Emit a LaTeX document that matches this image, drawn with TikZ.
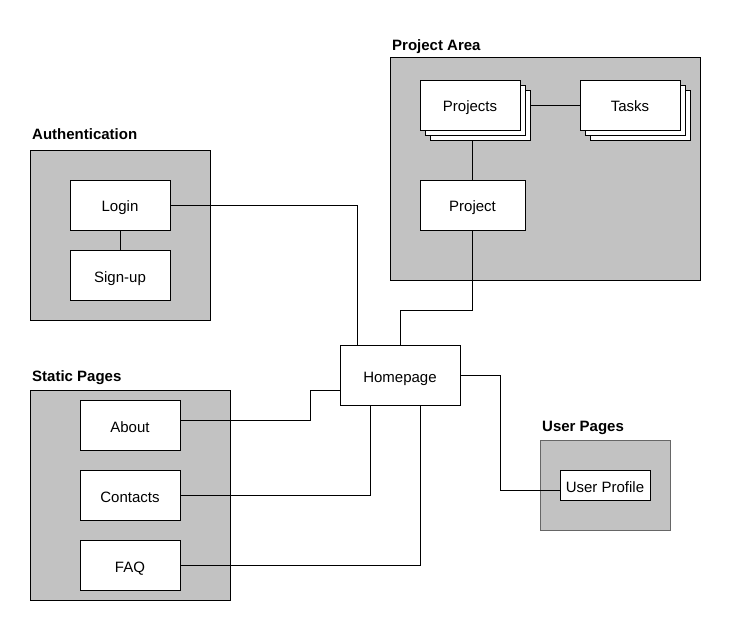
\documentclass[tikz,border=0pt]{standalone}
\usepackage{fontspec}
\setmainfont{Liberation Sans}
\usetikzlibrary{positioning, calc}
\usetikzlibrary{shadows}

\definecolor{grpgray}{RGB}{194,194,194}

\tikzset{
    page/.style={draw, fill=white, line width=0.9pt, inner sep=0pt,
        minimum width=100pt, minimum height=50pt,
        text height=14pt, text depth=0pt,
        font=\fontsize{15}{18}\selectfont},
    stack/.style={double copy shadow={shadow xshift=5pt, shadow yshift=-5pt,
        fill=white, draw=black, line width=0.9pt}},
    group/.style={draw, fill=grpgray, line width=0.9pt},
    grouptitle/.style={anchor=base west, inner sep=0pt,
        font=\bfseries\fontsize{15}{18}\selectfont},
    link/.style={line width=0.9pt},
}

\begin{document}
\begin{tikzpicture}[x=1pt, y=-1pt]
            \useasboundingbox (0,0) rectangle (731,631);
            % groups
            \draw[group] (30,150) rectangle (210,320);
            \draw[group] (30,390) rectangle (230,600);
            \draw[group] (390,57) rectangle (700,280);
            \draw[group, draw=black!60] (540,440) rectangle (670,530);
            \node[grouptitle] (authtitle) at (32,140) {Authentication};
            \node[grouptitle] (statictitle) at (32,381) {Static Pages};
            \node[grouptitle] (projtitle) at (392,51) {Project Area};
            \node[grouptitle] (usertitle) at (542,431) {User Pages};

            % pages
            \node[page] (login) at (120,205) {Login};
            \node[page] (signup) at (120,275) {Sign-up};
            \foreach \name/\txt/\y in {about/About/425, contacts/Contacts/495, faq/FAQ/565}{
                \node[page] (\name) at (130,\y) {\txt};
            }
            \node[page, stack] (projects) at (470,105) {Projects};
            \node[page, stack] (tasks) at (630,105) {Tasks};
            \node[page, minimum width=105pt] (project) at (472.5,205) {Project};
            \node[page, minimum width=120pt, minimum height=60pt] (homepage) at (400,375) {Homepage};
            \node[page, minimum width=90pt, minimum height=30pt] (profile) at (605,485) {User Profile};

            % links
            \draw[link] (login) -- (signup);
            \draw[link] ([xshift=10pt]projects.east) -- (tasks.west);
            \draw[link] (project.north) -- ++(0,-40);
            \draw[link] (login.east) -| ([xshift=-43pt]homepage.north);
            \draw[link] (project.south) -- ++(0,80) -| (homepage.north);
            \draw[link] (homepage.east) -- ++(40,0) |- ([yshift=-5pt]profile.west);
            \draw[link] ([yshift=5pt]about.east) -- ++(130,0) |- ([yshift=-15pt]homepage.west);
            \draw[link] (contacts.east) -| ([xshift=-30pt]homepage.south);
            \draw[link] (faq.east) -| ([xshift=20pt]homepage.south);
        \end{tikzpicture}
\end{document}
